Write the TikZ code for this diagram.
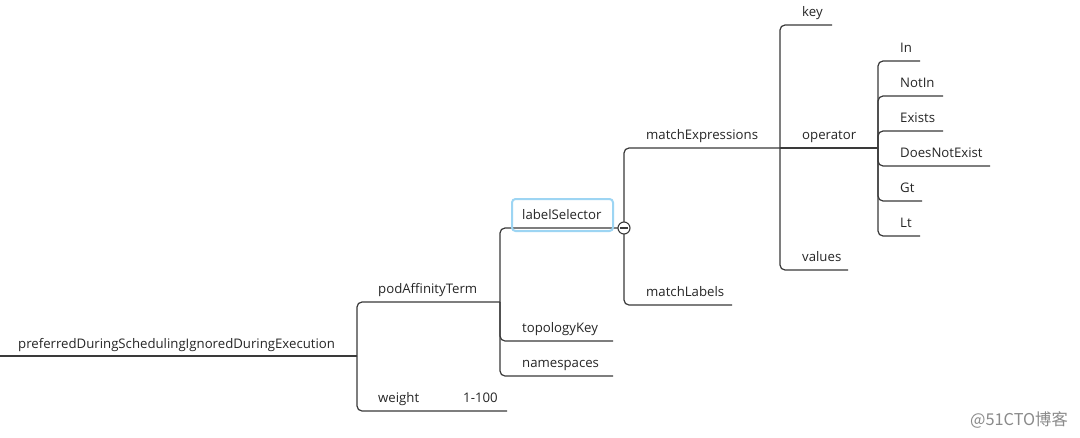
\documentclass[tikz,border=0pt]{standalone}
\usepackage{fontspec}
\setmainfont{Open Sans}
\newfontfamily\cjk{Noto Sans CJK SC}
\definecolor{lineC}{HTML}{3A3A3A}
\definecolor{txtC}{HTML}{262626}
\definecolor{selC}{HTML}{9DD5F3}
\definecolor{wmC}{HTML}{8A8A8A}
\begin{document}
\begin{tikzpicture}[x=1pt,y=-1pt,
  conn/.style={draw=lineC, line width=1.2pt, rounded corners=5pt},
  lbl/.style={anchor=base west, inner sep=0pt, font=\fontsize{13.2}{15}\selectfont, text=txtC, yshift=-1pt},
  selbox/.style={draw=selC, line width=2pt, rounded corners=3.5pt},
  collapse/.style={circle, draw=lineC, fill=white, line width=1.1pt, minimum size=12pt, inner sep=0pt}]
\useasboundingbox (0,0) rectangle (1080,437);
\fill[white] (0,0) rectangle (1080,437);

% joints and ends
\coordinate (rootS) at (0,356);
\coordinate (rootJ) at (357,356);
\coordinate (podJ) at (500,302);
\coordinate (weightE) at (507,411);
\coordinate (lsJ) at (624,228);
\coordinate (topoE) at (613,341);
\coordinate (nsE) at (613,376);
\coordinate (meJ) at (780,148);
\coordinate (mlE) at (732,305);
\coordinate (keyE) at (832,25);
\coordinate (opJ) at (878,148);
\coordinate (valE) at (848,270);
\coordinate (inE) at (920,61);
\coordinate (notinE) at (943,96);
\coordinate (existsE) at (943,131);
\coordinate (dneE) at (990,166);
\coordinate (gtE) at (922,201);
\coordinate (ltE) at (920,236);

% connectors
\draw[conn] (rootS) -- (rootJ);
\draw[conn] (rootJ) |- (podJ);
\draw[conn] (rootJ) |- (weightE);
\draw[conn] (podJ) |- (lsJ);
\draw[conn] (podJ) |- (topoE);
\draw[conn] (podJ) |- (nsE);
\draw[conn] (lsJ) |- (meJ);
\draw[conn] (lsJ) |- (mlE);
\draw[conn] (meJ) |- (keyE);
\draw[conn] (meJ) -- (opJ);
\draw[conn] (meJ) |- (valE);
\draw[conn] (opJ) |- (inE);
\draw[conn] (opJ) |- (notinE);
\draw[conn] (opJ) |- (existsE);
\draw[conn] (opJ) |- (dneE);
\draw[conn] (opJ) |- (gtE);
\draw[conn] (opJ) |- (ltE);

% labels (baseline about 9.5px above the underline)
\node[lbl] (root) at (18,347) {preferredDuringSchedulingIgnoredDuringExecution};
\node[lbl] (pod) at (378,292.5) {podAffinityTerm};
\node[lbl] (weight) at (378,401.5) {weight};
\node[lbl] (range) at (463,401.5) {1-100};
\node[selbox, minimum width=101pt, minimum height=32pt] (lsbox) at (562.5,215) {};
\node[lbl] (ls) at (522,218) {labelSelector};
\node[lbl] (topo) at (522,331.5) {topologyKey};
\node[lbl] (ns) at (522,366.5) {namespaces};
\node[lbl] (me) at (646,138.5) {matchExpressions};
\node[lbl] (ml) at (646,295.5) {matchLabels};
\node[lbl] (key) at (802,15.5) {key};
\node[lbl] (op) at (802,138.5) {operator};
\node[lbl] (val) at (802,260.5) {values};
\node[lbl] (in) at (900,51.5) {In};
\node[lbl] (notin) at (900,86.5) {NotIn};
\node[lbl] (exists) at (900,121.5) {Exists};
\node[lbl] (dne) at (900,156.5) {DoesNotExist};
\node[lbl] (gt) at (900,191.5) {Gt};
\node[lbl] (lt) at (900,226.5) {Lt};

% collapse marker
\node[collapse] (col) at (lsJ) {};
\draw[lineC, line width=1.1pt] ([xshift=-4pt]col.center) -- ([xshift=4pt]col.center);

% watermark
\node[anchor=west, inner sep=0pt, text=wmC, font=\cjk\fontsize{16.3}{18}\selectfont] (wm) at (970,419.5) {@51CTO博客};
\end{tikzpicture}
\end{document}
